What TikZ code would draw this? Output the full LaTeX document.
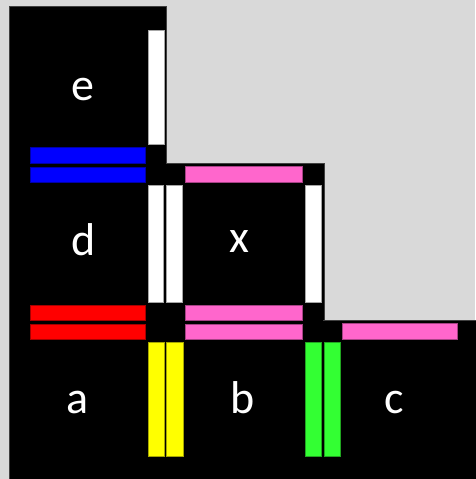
\documentclass[tikz,border=0pt]{standalone}
\usepackage{fontspec}
\setmainfont{Carlito}
\definecolor{bg}{HTML}{D9D9D9}
\definecolor{pinkbar}{HTML}{FF66CC}
\definecolor{greenbar}{HTML}{33FF33}
\definecolor{bluebar}{HTML}{0000FF}
\definecolor{redbar}{HTML}{FF0000}
\definecolor{yellowbar}{HTML}{FFFF00}
\tikzset{
  cell/.style={fill=black, draw=black!75, line width=0.8pt},
  bar/.style={fill=#1, draw=#1!65!black, line width=0.6pt},
  lbl/.style={text=white, inner sep=0pt, anchor=base, font=\fontsize{46}{46}\selectfont}
}
\begin{document}
\begin{tikzpicture}[x=1pt,y=-1pt]
\useasboundingbox (0,0) rectangle (475,479);
\fill[bg] (0,0) rectangle (475,479);
% cells
\draw[cell] (9.3,6) rectangle (166.7,165);
\draw[cell] (9.3,163.4) rectangle (166.7,322);
\draw[cell] (165,163.4) rectangle (324,322);
\draw[cell] (9.3,320.8) rectangle (482,482);
\fill[black] (10,164.5) rectangle (323,321);
\fill[black] (10,7) rectangle (165.8,165);
\fill[black] (10,321.5) rectangle (476,480);
% white bars
\draw[bar=white] (148,30.7) rectangle (164,144.7);
\draw[bar=white] (148,185.3) rectangle (163.7,302.3);
\draw[bar=white] (166.3,185.3) rectangle (182.7,302.3);
\draw[bar=white] (305.3,185.3) rectangle (321.3,302.3);
% blue bars
\draw[bar=bluebar] (30.7,147.7) rectangle (145.3,163.3);
\draw[bar=bluebar] (30.7,167) rectangle (145.3,182.3);
% red bars
\draw[bar=redbar] (30.7,305) rectangle (145.3,320.7);
\draw[bar=redbar] (30.7,324) rectangle (145.3,339.7);
% pink bars
\draw[bar=pinkbar] (185.3,166.3) rectangle (302.7,182.3);
\draw[bar=pinkbar] (185.3,305) rectangle (302.7,320.7);
\draw[bar=pinkbar] (185.3,324) rectangle (302.7,339.7);
\draw[bar=pinkbar] (342.3,323.3) rectangle (457,339.3);
% yellow bars
\draw[bar=yellowbar] (148,342.3) rectangle (164,456.7);
\draw[bar=yellowbar] (166.3,342.3) rectangle (183,456.7);
% green bars
\draw[bar=greenbar] (305.3,342.3) rectangle (321,456.7);
\draw[bar=greenbar] (324,342.3) rectangle (340,456.7);
% labels
\node[lbl] (le) at (83.3,100) {e};
\node[lbl] (ld) at (84,255) {d};
\node[lbl] (lx) at (239.7,252.7) {x};
\node[lbl] (la) at (77.8,413.5) {a};
\node[lbl] (lb) at (242.8,413) {b};
\node[lbl] (lc) at (394.5,413.5) {c};
\end{tikzpicture}
\end{document}
